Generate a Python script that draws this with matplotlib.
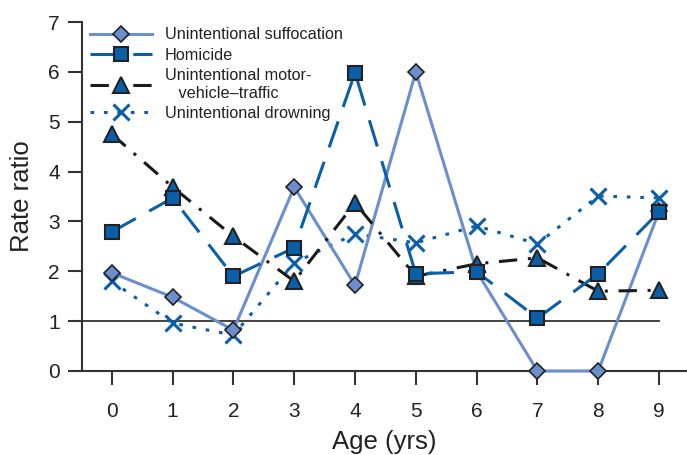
import numpy as np
import matplotlib.pyplot as plt

plt.rcParams['font.family'] = ['Liberation Sans', 'DejaVu Sans']

ages = np.arange(0, 10)
suffocation = [1.97, 1.48, 0.82, 3.69, 1.72, 6.0, 2.0, 0.0, 0.0, 3.2]
homicide = [2.79, 3.47, 1.9, 2.47, 5.98, 1.95, 1.99, 1.06, 1.95, 3.19]
motor = [4.75, 3.69, 2.7, 1.8, 3.37, 1.9, 2.15, 2.27, 1.6, 1.62]
drowning = [1.8, 0.96, 0.72, 2.17, 2.75, 2.57, 2.91, 2.55, 3.51, 3.47]

c_light = '#6b8fcc'
c_blue = '#0a5fa8'
edge = '#222222'

fig = plt.figure(figsize=(6.87, 4.55), dpi=100)
ax = fig.add_axes([82 / 687, 84 / 455, 605 / 687, 349 / 455])

# reference line at rate ratio 1
ax.plot([-0.49, 9], [1, 1], color='#333333', lw=1.3, zorder=1)

ax.plot(ages, drowning, color=c_blue, lw=2.2, linestyle=(0, (1.2, 3.2)),
        marker='x', ms=11, mew=2.2, mec=c_blue,
        label='Unintentional drowning', zorder=2, clip_on=False)
ax.plot(ages, suffocation, color=c_light, lw=2.2, linestyle='-',
        marker='D', ms=8.5, mfc=c_light, mec=edge, mew=1.2,
        label='Unintentional suffocation', zorder=3, clip_on=False)
ax.plot(ages, motor, color='#1a1a1a', lw=2.2, linestyle=(0, (6, 3.5, 1, 3.5)),
        marker='^', ms=12, mfc=c_blue, mec=edge, mew=1.5,
        label='Unintentional motor-\n   vehicle\u2013traffic', zorder=4, clip_on=False)
ax.plot(ages, homicide, color=c_blue, lw=2.2, linestyle=(0, (9, 5)),
        marker='s', ms=10, mfc=c_blue, mec=edge, mew=1.5,
        label='Homicide', zorder=5, clip_on=False)

ax.set_xlim(-0.49, 9.46)
ax.set_ylim(0, 7)
ax.set_xticks(ages)
ax.set_yticks(range(0, 8))
ax.tick_params(axis='both', labelsize=15, width=1.5, length=10, color='#333333',
               labelcolor='#222222')
ax.tick_params(axis='x', pad=12)
ax.tick_params(axis='y', pad=6)

for s in ['top', 'right']:
    ax.spines[s].set_visible(False)
for s in ['left', 'bottom']:
    ax.spines[s].set_linewidth(1.5)
    ax.spines[s].set_color('#333333')

ax.set_xlabel('Age (yrs)', fontsize=18.5, color='#222222', labelpad=7)
ax.set_ylabel('Rate ratio', fontsize=18.5, color='#222222', labelpad=10)

handles, labels = ax.get_legend_handles_labels()
order = [1, 3, 2, 0]
leg = ax.legend([handles[i] for i in order], [labels[i] for i in order],
                loc='upper left', bbox_to_anchor=(-0.005, 1.017), frameon=False,
                fontsize=11.7, handlelength=3.8, handletextpad=0.8,
                labelspacing=0.33, borderaxespad=0.3)
for t in leg.get_texts():
    t.set_color('#222222')

fig.savefig('out.png', dpi=100)
